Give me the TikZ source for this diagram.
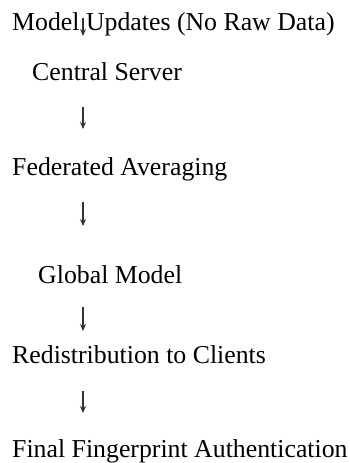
\documentclass[tikz,border=0pt]{standalone}
\usepackage{fontspec}
\setmainfont{Liberation Serif}
\newfontfamily\diagfont{Liberation Serif}
\usetikzlibrary{arrows.meta}
\tikzset{
  label text/.style={anchor=base west, inner sep=0pt, font=\diagfont\fontsize{25.8}{30}\selectfont},
  flow arrow/.style={draw=black!80, line width=1.1pt, -{Stealth[length=7pt,width=6pt]}}
}
\begin{document}
\begin{tikzpicture}[x=1pt,y=-1pt]
\useasboundingbox[fill=white] (0,0) rectangle (350,463);
\node[label text] (mu) at (12,30) {Model Updates (No Raw Data)};
\node[label text] (cs) at (32,80) {Central Server};
\node[label text] (fa) at (12,175) {Federated Averaging};
\node[label text] (gm) at (38,283) {Global Model};
\node[label text] (rc) at (12,363) {Redistribution to Clients};
\node[label text] (ff) at (12,457) {Final Fingerprint Authentication};
\coordinate (a0s) at (83,18);  \coordinate (a0e) at (83,36);
\coordinate (a1s) at (83,107); \coordinate (a1e) at (83,129);
\coordinate (a2s) at (83,202); \coordinate (a2e) at (83,226);
\coordinate (a3s) at (83,307); \coordinate (a3e) at (83,331);
\coordinate (a4s) at (83,391); \coordinate (a4e) at (83,413);
\draw[flow arrow] (a0s) -- (a0e);
\draw[flow arrow] (a1s) -- (a1e);
\draw[flow arrow] (a2s) -- (a2e);
\draw[flow arrow] (a3s) -- (a3e);
\draw[flow arrow] (a4s) -- (a4e);
\end{tikzpicture}
\end{document}
